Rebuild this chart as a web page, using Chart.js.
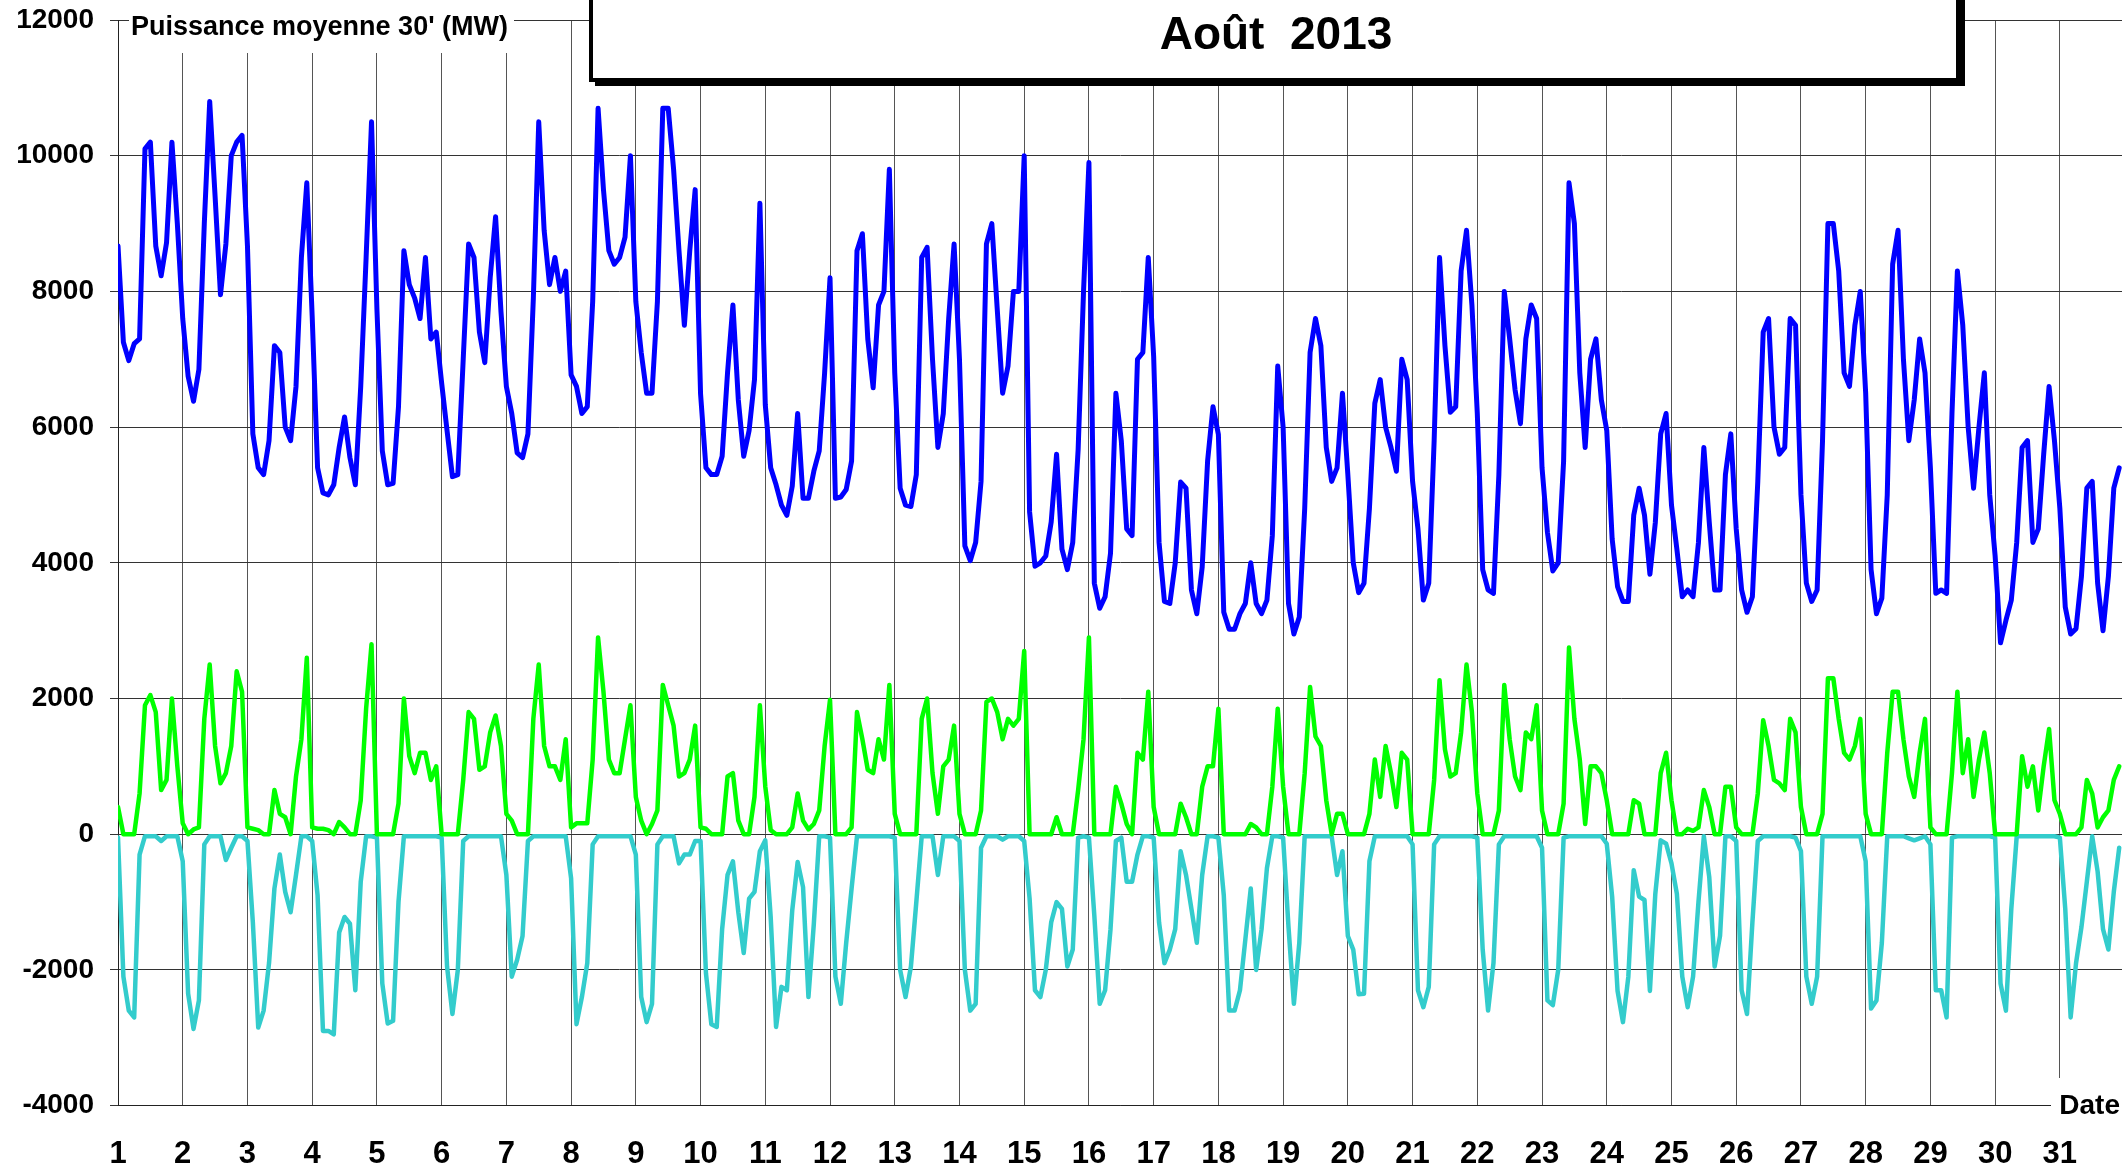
<!DOCTYPE html>
<html>
<head>
<meta charset="utf-8">
<script src="https://cdn.jsdelivr.net/npm/chart.js@4.4.0/dist/chart.umd.min.js"></script>
<style>
html,body{margin:0;padding:0;background:#fff;overflow:hidden;}
canvas{display:block;}
</style>
</head>
<body>
<canvas id="c" width="2122" height="1170"></canvas>
<script>
// ---------- text ----------
const chartTitle = 'Août  2013';
const yAxisTitle = "Puissance moyenne 30' (MW)";
const xAxisTitle = 'Date';

// ---------- categories / ticks ----------
const dayLabels = ['1','2','3','4','5','6','7','8','9','10','11','12','13','14','15','16',
                   '17','18','19','20','21','22','23','24','25','26','27','28','29','30','31'];
const yTickValues = [-4000, -2000, 0, 2000, 4000, 6000, 8000, 10000, 12000];
const samplesPerDay = 12; // one value every 2 hours (00h, 02h, ... 22h)

// ---------- series (MW), one row per day ----------
const blueSeries = [
  8670, 7250, 6980, 7230, 7300, 10100, 10200, 8670, 8230, 8720, 10200, 9000,
  7600, 6750, 6380, 6850, 9000, 10800, 9400, 7950, 8700, 10000, 10200, 10300,
  8670, 5900, 5400, 5300, 5800, 7200, 7100, 6000, 5800, 6600, 8500, 9600,
  7630, 5400, 5030, 5000, 5150, 5700, 6150, 5550, 5150, 6600, 8500, 10500,
  7740, 5650, 5150, 5170, 6300, 8600, 8100, 7900, 7600, 8500, 7300, 7400,
  6650, 5950, 5270, 5300, 7000, 8700, 8500, 7400, 6950, 8200, 9100, 7700,
  6600, 6200, 5620, 5550, 5900, 7900, 10500, 8900, 8100, 8500, 8000, 8300,
  6770, 6600, 6200, 6300, 7850, 10700, 9500, 8600, 8400, 8500, 8800, 10000,
  7850, 7100, 6500, 6500, 7850, 10700, 10700, 9800, 8600, 7500, 8600, 9500,
  6490, 5400, 5300, 5300, 5570, 6800, 7800, 6400, 5570, 5950, 6700, 9300,
  6330, 5400, 5150, 4850, 4700, 5130, 6200, 4950, 4950, 5350, 5650, 6800,
  8200, 4950, 4970, 5080, 5500, 8600, 8850, 7300, 6580, 7800, 8000, 9800,
  6800, 5100, 4850, 4830, 5300, 8500, 8650, 7000, 5700, 6200, 7600, 8700,
  7000, 4250, 4030, 4300, 5200, 8700, 9000, 7740, 6500, 6900, 8000, 8000,
  10000, 4750, 3950, 4000, 4100, 4600, 5600, 4200, 3900, 4300, 5670, 8000,
  9900, 3700, 3330, 3500, 4140, 6500, 5800, 4500, 4400, 7000, 7100, 8500,
  7040, 4300, 3430, 3400, 4000, 5190, 5100, 3600, 3250, 3940, 5500, 6300,
  5890, 3270, 3020, 3020, 3250, 3400, 4000, 3400, 3250, 3450, 4400, 6900,
  6000, 3400, 2950, 3200, 4800, 7100, 7600, 7200, 5700, 5200, 5400, 6500,
  5300, 4000, 3560, 3700, 4800, 6350, 6700, 6000, 5700, 5350, 7000, 6700,
  5200, 4500, 3450, 3700, 5800, 8500, 7200, 6220, 6300, 8300, 8900, 7800,
  6200, 3900, 3600, 3550, 5300, 8000, 7300, 6550, 6050, 7300, 7800, 7600,
  5400, 4450, 3880, 4000, 5500, 9600, 9000, 6800, 5700, 7000, 7300, 6400,
  5950, 4350, 3650, 3430, 3430, 4700, 5100, 4700, 3830, 4590, 5900, 6200,
  4850, 4200, 3500, 3600, 3500, 4300, 5700, 4600, 3600, 3600, 5300, 5900,
  4500, 3600, 3270, 3500, 5200, 7400, 7600, 6000, 5600, 5700, 7600, 7500,
  5000, 3700, 3430, 3600, 5800, 9000, 9000, 8300, 6800, 6600, 7500, 8000,
  6500, 3900, 3250, 3480, 5000, 8400, 8900, 7000, 5800, 6400, 7300, 6800,
  5400, 3550, 3600, 3550, 6200, 8300, 7500, 6000, 5100, 6000, 6800, 5000,
  4100, 2820, 3150, 3450, 4300, 5700, 5800, 4300, 4500, 5600, 6600, 5800,
  4800, 3350, 2950, 3030, 3800, 5100, 5200, 3700, 3000, 3800, 5100, 5400
];

const greenSeries = [
  400, 0, 0, 0, 600, 1900, 2050, 1800, 650, 800, 2000, 1000,
  160, 0, 70, 100, 1700, 2500, 1300, 750, 900, 1300, 2400, 2100,
  100, 80, 60, 0, 0, 650, 300, 250, 0, 850, 1400, 2600,
  100, 80, 80, 60, 0, 180, 100, 0, 0, 500, 1850, 2800,
  0, 0, 0, 0, 450, 2000, 1150, 900, 1200, 1200, 800, 1000,
  0, 0, 0, 0, 800, 1800, 1700, 950, 1000, 1500, 1750, 1300,
  300, 200, 0, 0, 0, 1700, 2500, 1300, 1000, 1000, 800, 1400,
  100, 160, 160, 160, 1100, 2900, 2100, 1100, 900, 900, 1400, 1900,
  550, 200, 0, 150, 350, 2200, 1900, 1600, 850, 900, 1100, 1600,
  100, 80, 0, 0, 0, 850, 900, 200, 0, 0, 550, 1900,
  700, 60, 0, 0, 0, 100, 600, 200, 70, 150, 350, 1300,
  1980, 0, 0, 0, 100, 1800, 1400, 950, 900, 1400, 1100, 2200,
  300, 0, 0, 0, 0, 1700, 2000, 900, 300, 1000, 1100, 1600,
  300, 0, 0, 0, 350, 1950, 2000, 1800, 1400, 1700, 1600, 1700,
  2700, 0, 0, 0, 0, 0, 250, 0, 0, 0, 650, 1400,
  2900, 0, 0, 0, 0, 700, 450, 150, 0, 1200, 1100, 2100,
  400, 0, 0, 0, 0, 450, 250, 0, 0, 700, 1000, 1000,
  1850, 0, 0, 0, 0, 0, 150, 100, 0, 0, 700, 1850,
  700, 0, 0, 0, 900, 2170, 1440, 1300, 500, 0, 300, 300,
  0, 0, 0, 0, 300, 1100, 550, 1300, 900, 400, 1200, 1100,
  0, 0, 0, 0, 800, 2270, 1250, 850, 900, 1500, 2500, 1800,
  600, 0, 0, 0, 350, 2200, 1400, 850, 650, 1500, 1400, 1900,
  350, 0, 0, 0, 450, 2750, 1700, 1100, 150, 1000, 1000, 900,
  500, 0, 0, 0, 0, 500, 450, 0, 0, 0, 900, 1200,
  500, 0, 0, 80, 50, 100, 650, 400, 0, 0, 700, 700,
  100, 0, 0, 0, 600, 1680, 1300, 800, 750, 650, 1700, 1500,
  400, 0, 0, 0, 300, 2300, 2300, 1700, 1200, 1100, 1300, 1700,
  300, 0, 0, 0, 1200, 2100, 2100, 1400, 850, 550, 1200, 1700,
  100, 0, 0, 0, 900, 2100, 900, 1400, 550, 1100, 1500, 900,
  0, 0, 0, 0, 0, 1150, 700, 1000, 350, 1000, 1550, 500,
  300, 0, 0, 0, 100, 800, 600, 100, 250, 350, 800, 1000
];

const cyanSeries = [
  -50, -2100, -2600, -2700, -300, -30, -30, -30, -100, -30, -30, -30,
  -400, -2350, -2870, -2450, -150, -30, -30, -30, -380, -200, -30, -30,
  -100, -1300, -2850, -2600, -1900, -800, -300, -850, -1150, -600, -30, -30,
  -100, -900, -2900, -2900, -2950, -1450, -1220, -1320, -2300, -700, -30, -30,
  -50, -2200, -2790, -2750, -1000, -30, -30, -30, -30, -30, -30, -30,
  -50, -1950, -2650, -2000, -100, -30, -30, -30, -30, -30, -30, -30,
  -600, -2100, -1850, -1500, -100, -30, -30, -30, -30, -30, -30, -30,
  -650, -2800, -2400, -1900, -150, -30, -30, -30, -30, -30, -30, -30,
  -300, -2400, -2770, -2500, -150, -30, -30, -30, -430, -300, -300, -100,
  -100, -2050, -2800, -2840, -1400, -600, -400, -1150, -1750, -950, -850, -250,
  -90, -1220, -2840, -2250, -2300, -1120, -410, -780, -2400, -1320, -30, -30,
  -50, -2100, -2500, -1600, -800, -30, -30, -30, -30, -30, -30, -30,
  -50, -2000, -2400, -1950, -1000, -30, -30, -30, -600, -30, -30, -30,
  -100, -2000, -2600, -2500, -200, -30, -30, -30, -80, -30, -30, -30,
  -100, -950, -2300, -2400, -2000, -1300, -1000, -1100, -1950, -1700, -50, -30,
  -50, -1200, -2500, -2300, -1400, -100, -50, -700, -700, -300, -30, -30,
  -50, -1300, -1900, -1700, -1400, -250, -600, -1100, -1600, -600, -30, -30,
  -50, -900, -2600, -2600, -2300, -1550, -800, -2000, -1400, -500, -30, -30,
  -50, -1370, -2500, -1600, -30, -30, -30, -30, -30, -30, -600, -250,
  -1500, -1700, -2360, -2350, -400, -30, -30, -30, -30, -30, -30, -30,
  -150, -2300, -2550, -2250, -150, -30, -30, -30, -30, -30, -30, -30,
  -50, -1700, -2600, -1900, -150, -30, -30, -30, -30, -30, -30, -30,
  -200, -2450, -2520, -2000, -50, -30, -30, -30, -30, -30, -30, -30,
  -140, -920, -2310, -2770, -2100, -530, -920, -970, -2310, -880, -90, -140,
  -430, -880, -2100, -2550, -2100, -1000, -30, -630, -1950, -1500, -30, -30,
  -100, -2300, -2650, -1300, -100, -30, -30, -30, -30, -30, -30, -50,
  -250, -2100, -2500, -2100, -30, -30, -30, -30, -30, -30, -30, -30,
  -400, -2570, -2450, -1600, -30, -30, -30, -30, -60, -90, -60, -30,
  -150, -2300, -2300, -2700, -50, -30, -30, -30, -30, -30, -30, -30,
  -50, -2200, -2600, -1100, -30, -30, -30, -30, -30, -30, -30, -30,
  -50, -1100, -2700, -1900, -1370, -700, -30, -550, -1400, -1700, -850, -200
];

// ---------- build ----------
const toPoints = arr => arr.map((v, i) => ({ x: i / samplesPerDay, y: v }));
const FONT = '"Liberation Sans", Arial, Helvetica, sans-serif';

const overlayPlugin = {
  id: 'overlay',
  afterDraw(chart) {
    const c = chart.ctx;
    const a = chart.chartArea;
    c.save();
    // y-axis title (white box behind)
    c.fillStyle = '#fff';
    c.fillRect(a.left + 11, 0, 385, 53);
    c.fillStyle = '#000';
    c.font = 'bold 27px ' + FONT;
    c.textAlign = 'left';
    c.textBaseline = 'middle';
    c.fillText(yAxisTitle, a.left + 13, 28);

    // title box with shadow
    c.fillStyle = '#000';
    c.fillRect(595, -10, 1370, 96);
    c.fillStyle = '#fff';
    c.fillRect(589, -10, 1371, 92);
    c.strokeStyle = '#000';
    c.lineWidth = 4;
    c.strokeRect(591, -12, 1367, 92);
    c.fillStyle = '#000';
    c.font = 'bold 46px ' + FONT;
    c.textAlign = 'center';
    c.textBaseline = 'middle';
    c.fillText(chartTitle, 1276, 36);

    // "Date" label
    c.fillStyle = '#fff';
    c.fillRect(2051, 1078, 71, 52);
    c.fillStyle = '#000';
    c.font = 'bold 28px ' + FONT;
    c.textAlign = 'right';
    c.textBaseline = 'middle';
    c.fillText(xAxisTitle, 2120, 1106);
    c.restore();
  }
};

const lineStyle = w => ({ pointRadius: 0, borderWidth: w, tension: 0, fill: false,
                          borderJoinStyle: 'round', borderCapStyle: 'round' });

new Chart(document.getElementById('c').getContext('2d'), {
  type: 'line',
  data: {
    datasets: [
      Object.assign({ label: 'blue', data: toPoints(blueSeries), borderColor: '#0000FF' }, lineStyle(5)),
      Object.assign({ label: 'green', data: toPoints(greenSeries), borderColor: '#00FF00' }, lineStyle(4.5)),
      Object.assign({ label: 'cyan', data: toPoints(cyanSeries), borderColor: '#33CCCC' }, lineStyle(4.5))
    ]
  },
  options: {
    responsive: false,
    animation: false,
    devicePixelRatio: 1,
    layout: { padding: { top: 20, left: 0, right: 0, bottom: 0 } },
    plugins: { legend: { display: false }, tooltip: { enabled: false }, title: { display: false } },
    scales: {
      x: {
        type: 'linear',
        min: 0,
        max: 30.96,
        afterBuildTicks: s => { s.ticks = dayLabels.map((_, i) => ({ value: i })); },
        afterFit: s => { s.height = 64.4; s.paddingLeft = 0; s.paddingRight = 0; },
        grid: { color: '#555', lineWidth: 1, drawTicks: false },
        border: { display: true, color: '#222', width: 1 },
        ticks: {
          autoSkip: false, maxRotation: 0, minRotation: 0,
          padding: 30, color: '#000',
          font: { family: FONT, size: 31, weight: 'bold' },
          callback: (v, i) => dayLabels[i]
        }
      },
      y: {
        min: yTickValues[0],
        max: yTickValues[yTickValues.length - 1],
        afterBuildTicks: s => { s.ticks = yTickValues.map(v => ({ value: v })); },
        afterFit: s => { s.width = 118; s.paddingTop = 0; s.paddingBottom = 0; },
        grid: { color: '#333', lineWidth: 1, tickLength: 8, drawTicks: true },
        border: { display: true, color: '#222', width: 1 },
        ticks: {
          padding: 16, color: '#000',
          font: { family: FONT, size: 28, weight: 'bold' },
          callback: v => String(v)
        }
      }
    }
  },
  plugins: [overlayPlugin]
});
</script>
</body>
</html>
